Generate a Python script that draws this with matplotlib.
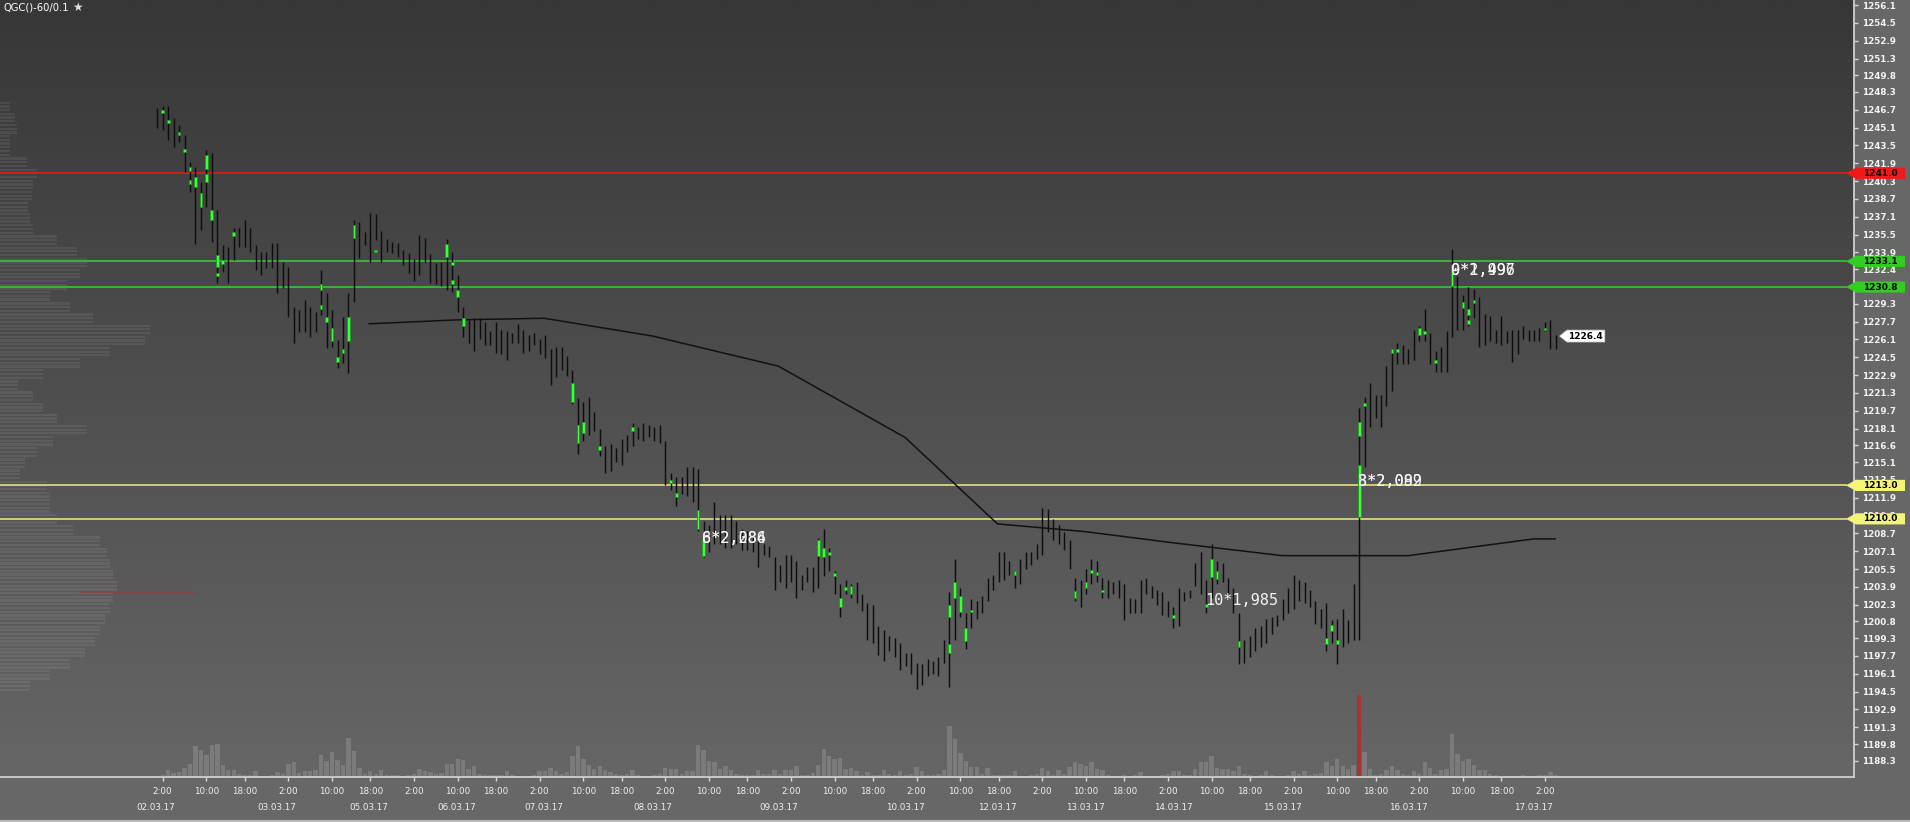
import numpy as np
import matplotlib
matplotlib.use("Agg")
import matplotlib.pyplot as plt
import matplotlib.transforms as mtransforms
from matplotlib.patches import Polygon
from matplotlib.lines import Line2D

# hourly bars of QGC, bar 0 = 02.03.17 1:00, one bar per trading hour
highs = [
    1246.83, 1247.04, 1247.04, 1245.93, 1245.33, 1244.43, 1242.04, 1241.53, 1240.25, 1243.09,
    1242.85, 1237.71, 1234.57, 1234.42, 1236.07, 1236.07, 1236.81, 1236.07, 1234.57, 1233.97,
    1233.97, 1234.78, 1234.72, 1233.07, 1232.62, 1229.03, 1228.73, 1229.63, 1229.03, 1228.58,
    1232.32, 1230.23, 1228.73, 1226.04, 1228.13, 1230.23, 1236.81, 1236.66, 1235.76, 1237.41,
    1237.35, 1235.85, 1235.08, 1234.87, 1234.72, 1234.12, 1233.82, 1233.28, 1235.47, 1235.17,
    1233.76, 1232.98, 1233.07, 1235.08, 1233.97, 1231.88, 1229.04, 1227.84, 1228.01, 1228.01,
    1227.67, 1226.81, 1227.67, 1226.98, 1226.81, 1226.64, 1227.49, 1226.98, 1226.46, 1226.64,
    1226.12, 1226.46, 1225.26, 1225.43, 1225.43, 1224.58, 1223.37, 1220.80, 1220.46, 1220.97,
    1219.60, 1218.05, 1216.51, 1216.68, 1216.34, 1217.19, 1217.54, 1218.57, 1218.22, 1218.57,
    1218.40, 1218.22, 1218.40, 1217.02, 1214.10, 1213.76, 1213.76, 1214.62, 1214.62, 1214.45,
    1209.81, 1209.47, 1211.53, 1210.33, 1210.33, 1210.33, 1209.81, 1209.12, 1208.95, 1208.44,
    1208.09, 1207.75, 1207.58, 1206.55, 1205.86, 1206.72, 1206.72, 1206.21, 1205.00, 1205.69,
    1205.69, 1208.27, 1209.12, 1207.41, 1205.35, 1204.15, 1204.49, 1204.15, 1204.32, 1203.29,
    1202.43, 1202.26, 1200.37, 1200.03, 1199.51, 1199.34, 1198.82, 1197.96, 1197.96, 1197.11,
    1196.94, 1197.45, 1197.28, 1197.62, 1199.17, 1203.46, 1206.38, 1203.80, 1201.57, 1202.77,
    1202.60, 1203.12, 1204.66, 1205.00, 1207.06, 1207.06, 1206.21, 1205.35, 1206.38, 1207.06,
    1207.06, 1207.75, 1211.01, 1210.84, 1209.98, 1209.47, 1208.78, 1208.09, 1204.66, 1204.49,
    1205.52, 1206.38, 1206.21, 1204.66, 1204.49, 1204.32, 1204.49, 1204.15, 1202.94, 1202.77,
    1204.49, 1204.66, 1203.97, 1203.63, 1203.46, 1202.60, 1202.09, 1203.80, 1203.46, 1203.63,
    1206.03, 1207.06, 1204.49, 1207.75, 1206.21, 1206.03, 1204.66, 1203.80, 1201.57, 1199.17,
    1199.51, 1200.20, 1200.37, 1201.06, 1201.23, 1201.40, 1202.77, 1203.80, 1205.00, 1204.49,
    1204.32, 1203.63, 1202.60, 1201.91, 1202.43, 1200.89, 1201.06, 1201.91, 1200.89, 1204.15,
    1219.94, 1220.97, 1222.17, 1221.14, 1221.14, 1223.72, 1225.09, 1225.78, 1225.61, 1225.26,
    1226.98, 1227.32, 1228.87, 1226.64, 1225.09, 1225.43, 1226.81, 1234.19, 1231.79, 1230.07,
    1230.76, 1230.58, 1229.90, 1228.35, 1228.18, 1226.98, 1228.18, 1226.81, 1226.98, 1226.98,
    1227.32, 1226.98, 1226.98, 1227.15, 1227.67, 1227.84, 1226.46,
]
lows = [
    1245.04, 1244.89, 1243.99, 1243.39, 1243.84, 1241.14, 1239.35, 1234.66, 1235.92, 1238.01,
    1234.87, 1231.13, 1232.17, 1231.13, 1233.22, 1234.42, 1234.42, 1233.97, 1232.32, 1231.88,
    1232.47, 1232.47, 1230.23, 1230.68, 1228.13, 1225.74, 1226.79, 1226.79, 1226.34, 1226.79,
    1228.29, 1225.30, 1225.44, 1223.50, 1223.95, 1223.05, 1229.48, 1233.37, 1234.57, 1233.07,
    1235.02, 1233.07, 1233.97, 1233.82, 1233.52, 1232.77, 1232.08, 1231.37, 1231.88, 1233.07,
    1231.19, 1231.04, 1230.89, 1230.53, 1230.38, 1228.58, 1226.29, 1225.78, 1225.09, 1226.12,
    1225.61, 1225.61, 1224.92, 1224.75, 1224.23, 1225.78, 1225.78, 1224.92, 1225.09, 1225.61,
    1224.75, 1224.40, 1222.00, 1222.69, 1223.37, 1222.86, 1220.28, 1215.82, 1217.02, 1217.54,
    1217.88, 1215.65, 1214.10, 1214.27, 1215.13, 1214.79, 1215.99, 1216.51, 1217.19, 1217.02,
    1217.37, 1217.02, 1216.85, 1213.07, 1212.56, 1211.18, 1212.22, 1212.04, 1211.53, 1208.95,
    1206.55, 1207.06, 1207.75, 1207.75, 1207.41, 1207.41, 1207.75, 1207.24, 1207.24, 1207.06,
    1205.69, 1206.72, 1206.55, 1203.63, 1204.32, 1203.80, 1204.32, 1202.94, 1203.63, 1204.32,
    1203.46, 1203.80, 1204.83, 1205.35, 1203.29, 1201.23, 1203.29, 1202.94, 1202.43, 1201.75,
    1199.17, 1198.82, 1197.80, 1197.28, 1198.14, 1197.62, 1196.42, 1196.76, 1196.08, 1194.70,
    1195.05, 1195.91, 1196.08, 1195.91, 1197.11, 1194.87, 1199.17, 1201.23, 1198.31, 1200.20,
    1201.06, 1201.57, 1202.60, 1203.63, 1204.32, 1204.49, 1205.00, 1203.80, 1204.15, 1205.52,
    1205.86, 1206.38, 1206.72, 1208.78, 1208.09, 1207.75, 1207.24, 1205.52, 1202.60, 1202.09,
    1203.29, 1204.15, 1204.32, 1202.94, 1202.94, 1203.29, 1202.94, 1200.89, 1201.57, 1201.57,
    1201.57, 1203.29, 1202.94, 1202.26, 1201.40, 1201.23, 1200.20, 1200.37, 1202.60, 1202.94,
    1203.97, 1203.29, 1201.57, 1202.94, 1204.15, 1204.32, 1203.29, 1201.57, 1196.94, 1197.11,
    1197.62, 1198.14, 1198.48, 1198.82, 1199.68, 1200.37, 1200.89, 1201.57, 1201.91, 1202.60,
    1202.43, 1202.09, 1200.54, 1200.20, 1198.14, 1198.82, 1196.94, 1198.48, 1198.82, 1199.17,
    1199.17, 1214.62, 1218.22, 1219.08, 1218.22, 1220.11, 1221.49, 1223.89, 1223.89, 1223.89,
    1224.23, 1225.95, 1225.95, 1223.89, 1223.20, 1223.20, 1223.20, 1226.29, 1226.98, 1226.98,
    1227.32, 1228.01, 1225.43, 1225.61, 1225.95, 1225.78, 1225.61, 1225.78, 1224.06, 1224.75,
    1226.12, 1225.95, 1225.95, 1225.95, 1226.81, 1225.26, 1225.26,
]
volume = [
    1, 2, 7, 4, 5, 9, 13, 31, 27, 22, 32, 33, 12, 7, 7, 3, 2, 2, 6, 1,
    1, 2, 5, 3, 13, 15, 4, 6, 6, 7, 22, 16, 25, 17, 12, 39, 26, 9, 3, 6,
    3, 7, 2, 2, 2, 1, 2, 3, 8, 6, 5, 3, 4, 13, 13, 18, 17, 8, 11, 3,
    2, 2, 2, 2, 6, 2, 1, 1, 1, 2, 6, 6, 9, 6, 3, 5, 21, 31, 18, 12,
    8, 11, 7, 5, 3, 2, 3, 7, 2, 1, 1, 2, 3, 9, 8, 8, 3, 6, 6, 32,
    27, 16, 15, 8, 11, 7, 3, 2, 2, 2, 7, 3, 3, 7, 3, 7, 7, 11, 2, 2,
    4, 12, 28, 21, 18, 19, 8, 9, 6, 2, 5, 2, 2, 7, 3, 2, 6, 2, 3, 10,
    6, 2, 2, 3, 7, 51, 38, 24, 16, 10, 10, 3, 9, 2, 2, 2, 2, 6, 1, 1,
    2, 3, 9, 6, 2, 7, 3, 10, 15, 13, 11, 15, 8, 7, 2, 1, 1, 2, 1, 2,
    5, 1, 1, 1, 2, 3, 6, 6, 2, 2, 8, 15, 15, 21, 9, 8, 8, 6, 11, 3,
    2, 1, 2, 6, 2, 1, 1, 2, 6, 3, 6, 2, 3, 4, 15, 11, 18, 11, 8, 12,
    82, 25, 8, 2, 3, 7, 11, 7, 3, 2, 6, 3, 15, 9, 3, 7, 8, 43, 23, 16,
    18, 12, 7, 7, 3, 2, 1, 1, 1, 1, 2, 1, 1, 2, 2, 5, 2,
]
spike_bar = 220

# high-volume price clusters inside the bars
green_bar = [1, 2, 4, 5, 6, 6, 7, 8, 9, 9, 10, 11, 11, 12, 14, 30, 30, 31, 32, 33,
             34, 35, 36, 40, 53, 54, 54, 55, 56, 76, 77, 78, 81, 87, 94, 95, 99, 100, 121, 122,
             123, 124, 125, 126, 127, 145, 145, 146, 147, 148, 149, 157, 168, 170, 171, 172, 173, 186, 192, 193,
             194, 198, 214, 215, 216, 220, 220, 221, 226, 227, 231, 232, 234, 237, 239, 240, 240, 241, 254]
green_lo = [1246.4, 1245.5, 1244.4, 1242.9, 1241.2, 1240.0, 1239.8, 1238.0, 1241.4, 1240.2,
            1236.8, 1232.6, 1231.8, 1232.9, 1235.4, 1230.5, 1228.8, 1227.7, 1226.0, 1224.1,
            1224.9, 1226.0, 1235.2, 1233.9, 1233.5, 1232.8, 1231.1, 1229.9, 1227.3, 1220.5,
            1216.85, 1217.7, 1216.2, 1217.9, 1213.2, 1212.0, 1209.1, 1206.7, 1206.7, 1206.55,
            1206.8, 1204.9, 1202.1, 1203.6, 1203.3, 1201.23, 1197.96, 1202.9, 1201.6, 1199.0,
            1201.6, 1205.0, 1202.9, 1203.8, 1205.1, 1205.0, 1203.4, 1201.1, 1202.1, 1204.8,
            1204.6, 1198.5, 1198.8, 1199.9, 1198.8, 1210.2, 1217.4, 1220.1, 1224.9, 1225.0,
            1226.5, 1226.6, 1224.0, 1230.9, 1228.9, 1228.3, 1227.5, 1229.4, 1226.9]
green_hi = [1246.7, 1245.8, 1244.7, 1243.2, 1241.6, 1240.4, 1240.7, 1239.2, 1242.6, 1240.9,
            1237.7, 1233.7, 1232.0, 1233.2, 1235.7, 1231.1, 1229.2, 1228.1, 1227.1, 1224.55,
            1225.2, 1228.1, 1236.35, 1234.1, 1234.66, 1233.0, 1231.4, 1230.5, 1228.0, 1222.2,
            1218.4, 1218.7, 1216.5, 1218.2, 1213.5, 1212.3, 1210.8, 1208.1, 1208.1, 1207.4,
            1207.0, 1205.1, 1202.9, 1203.8, 1204.0, 1202.26, 1198.8, 1204.3, 1203.1, 1200.2,
            1201.8, 1205.3, 1203.5, 1204.3, 1205.4, 1205.2, 1203.6, 1201.3, 1202.4, 1206.4,
            1205.3, 1199.0, 1199.3, 1200.5, 1199.1, 1214.8, 1218.7, 1220.4, 1225.2, 1225.2,
            1227.1, 1226.8, 1224.2, 1232.8, 1229.5, 1228.8, 1227.8, 1229.6, 1227.1]

# cluster labels (two labels printed on top of each other in places)
note_bar = [100, 100, 192, 220, 220, 237, 237]
note_price = [1208.2, 1208.2, 1202.7, 1213.35, 1213.35, 1232.3, 1232.3]
note_text = ["6*2,086", "8*2,284", "10*1,985", "3*2,089", "8*2,092", "9*2,497", "0*1,996"]

# date axis
date_lab = ["02.03.17", "03.03.17", "05.03.17", "06.03.17", "07.03.17", "08.03.17", "09.03.17",
            "10.03.17", "12.03.17", "13.03.17", "14.03.17", "15.03.17", "16.03.17", "17.03.17"]
date_pos = [-0.2, 21.8, 38.8, 54.8, 70.8, 90.7, 113.7, 136.9, 153.8, 169.9, 186.0, 205.9, 229.0, 251.9]

# daily average line
ma_x = [38.8, 54.8, 70.8, 90.7, 113.7, 136.9, 153.8, 169.9, 186.0, 205.9, 229.0, 251.9, 255.9]
ma_y = [1227.5, 1227.85, 1228.0, 1226.4, 1223.7, 1217.3, 1209.55, 1208.85, 1207.85, 1206.7,
        1206.7, 1208.2, 1208.2]

# volume profile on the left edge
profile_price = list(range(1247, 1194, -1))
profile_len = [10, 15, 17, 10, 10, 27, 37, 33, 32, 28, 30, 33, 57, 77, 87, 80, 67, 50, 70, 93,
               150, 145, 110, 80, 43, 18, 33, 43, 57, 87, 53, 37, 25, 20, 47, 50, 50, 57, 73, 100,
               107, 110, 113, 117, 113, 110, 105, 100, 95, 85, 70, 50, 30]
profile_poc = 1203.43

levels = [1241.0, 1233.1, 1230.8, 1213.0, 1210.0]
level_line = ["#d81c1c", "#35b835", "#35b835", "#cfcf72", "#cfcf72"]
level_tag = ["#f01818", "#33cc22", "#33cc22", "#f4f47a", "#f4f47a"]
last_price = 1226.4

ytick_vals = [1256.1, 1254.5, 1252.9, 1251.3, 1249.8, 1248.3, 1246.7, 1245.1, 1243.5, 1241.9,
              1240.3, 1238.7, 1237.1, 1235.5, 1233.9, 1232.4, 1230.8, 1229.3, 1227.7, 1226.1,
              1224.5, 1222.9, 1221.3, 1219.7, 1218.1, 1216.6, 1215.1, 1213.5, 1211.9, 1210.3,
              1208.7, 1207.1, 1205.5, 1203.9, 1202.3, 1200.8, 1199.3, 1197.7, 1196.1, 1194.5,
              1192.9, 1191.3, 1189.8, 1188.3]

# 2:00 / 10:00 / 18:00 ticks of each session (23 bars per session)
hour_pos, hour_lab = [], []
for k in range(11):
    hour_pos += [1 + 23 * k, 9 + 23 * k, 16 + 23 * k]
    hour_lab += ["2:00", "10:00", "18:00"]
hour_pos.append(1 + 23 * 11)
hour_lab.append("2:00")

# ---------------------------------------------------------------------------
W, H = 1910, 822
AX_W, AX_H = 1854, 777
x0, x1 = -28.78, 310.58
y0, y1 = 1186.84, 1256.55
xu = (x1 - x0) / AX_W
yu = (y1 - y0) / AX_H

fig = plt.figure(figsize=(W / 100, H / 100), dpi=100, facecolor="#676767")
ax = fig.add_axes([0, (H - AX_H) / H, AX_W / W, AX_H / H])
ax.set_facecolor("#4a4a4a")

# background gradient
shade = np.linspace(0x37, 0x66, 300) / 255.0
grad = np.repeat(shade[:, None, None], 3, axis=2)
ax.imshow(grad, extent=(x0, x1, y0, y1), aspect="auto", zorder=0, interpolation="bilinear")

idx = np.arange(len(highs))

# volume profile, drawn as thin striped rows
plen = np.array(profile_len) * xu
for off in (-0.33, 0.0, 0.33):
    ax.barh(np.array(profile_price) + off, plen, left=x0, height=0.2,
            color="#ffffff", alpha=0.075, zorder=1, linewidth=0)
ax.plot([x0 + 80 * xu, x0 + 195 * xu], [profile_poc, profile_poc], color="#b03030",
        lw=1.0, alpha=0.55, zorder=1)

# volume histogram
ax.bar(idx, np.array(volume) * yu, bottom=y0, width=0.8, color="#8e8e8e",
       alpha=0.55, zorder=1.5, linewidth=0)
ax.bar([spike_bar], [volume[spike_bar] * yu], bottom=y0, width=0.8, color="#b02828",
       alpha=0.85, zorder=1.6, linewidth=0)

# level lines
for p, c in zip(levels, level_line):
    ax.axhline(p, xmin=0, xmax=1846 / AX_W, color=c, lw=1.4, zorder=2)

# daily average
ax.plot(ma_x, ma_y, color="#111111", lw=1.1, zorder=3)

# price bars
ax.vlines(idx, lows, highs, color="#0e0e0e", lw=1.05, zorder=4)

# clusters
gh = np.maximum(np.array(green_hi) - np.array(green_lo), 0.25)
ax.bar(green_bar, gh, bottom=green_lo, width=0.5, color="#3dff3d",
       edgecolor="#1c9a1c", linewidth=0.5, zorder=5)

# cluster labels
for b, p, t in zip(note_bar, note_price, note_text):
    ax.text(b - 0.2, p, t, ha="left", va="center", fontsize=11, color="#f4f4f4",
            family="DejaVu Sans Mono", zorder=6)

# right side price tags
trans_r = mtransforms.blended_transform_factory(ax.transAxes, ax.transData)
tip, body, end = 1846 / AX_W, 1856 / AX_W, 1905 / AX_W
for p, c in zip(levels, level_tag):
    ax.add_patch(Polygon([(tip, p), (body, p + 0.5), (end, p + 0.5), (end, p - 0.5), (body, p - 0.5)],
                         closed=True, transform=trans_r, facecolor=c, edgecolor="none",
                         clip_on=False, zorder=20))
    ax.text((body + end) / 2, p, f"{p:.1f}", transform=trans_r, ha="center", va="center",
            fontsize=6.5, fontweight="bold", color="black", zorder=21, clip_on=False)

# last price tag
lx = idx[-1]
ax.add_patch(Polygon([(lx + 0.6, last_price), (lx + 2.0, last_price + 0.55),
                      (lx + 9.0, last_price + 0.55), (lx + 9.0, last_price - 0.55),
                      (lx + 2.0, last_price - 0.55)], closed=True, facecolor="white",
                     edgecolor="#888888", lw=0.5, zorder=20))
ax.text(lx + 5.5, last_price, f"{last_price:.1f}", ha="center", va="center", fontsize=6.5,
        fontweight="bold", color="black", zorder=21)

# axes
ax.set_xlim(x0, x1)
ax.set_ylim(y0, y1)
for s in ("top", "left"):
    ax.spines[s].set_visible(False)
for s in ("right", "bottom"):
    ax.spines[s].set_color("#d0d0d0")
    ax.spines[s].set_linewidth(1.3)

ax.yaxis.tick_right()
ax.set_yticks(ytick_vals)
ax.set_yticklabels([f"{v:.1f}" for v in ytick_vals])
ax.tick_params(axis="y", direction="out", length=3, width=1, colors="#d8d8d8",
               labelcolor="#f2f2f2", labelsize=6.3, pad=3)
for lab in ax.get_yticklabels():
    lab.set_fontweight("bold")

ax.set_xticks(hour_pos)
ax.set_xticklabels(hour_lab)
ax.set_xticks(date_pos, minor=True)
ax.set_xticklabels(date_lab, minor=True)
ax.tick_params(axis="x", which="major", direction="out", length=3, width=1, colors="#d8d8d8",
               labelcolor="#f0f0f0", labelsize=6.3, pad=4)
ax.tick_params(axis="x", which="minor", length=0, labelcolor="#f0f0f0", labelsize=6.3, pad=19)

fig.text(3 / W, 1 - 7 / H, "QGC()-60/0.1", ha="left", va="center", fontsize=7.2, color="white")
fig.text(72 / W, 1 - 7 / H, "\u2605", ha="left", va="center", fontsize=8.5, color="#e0e0e0")
fig.add_artist(Line2D([0, 1], [1.5 / H, 1.5 / H], color="#b8b8b8", lw=1.5))

fig.savefig("out.png", dpi=100, facecolor=fig.get_facecolor())
